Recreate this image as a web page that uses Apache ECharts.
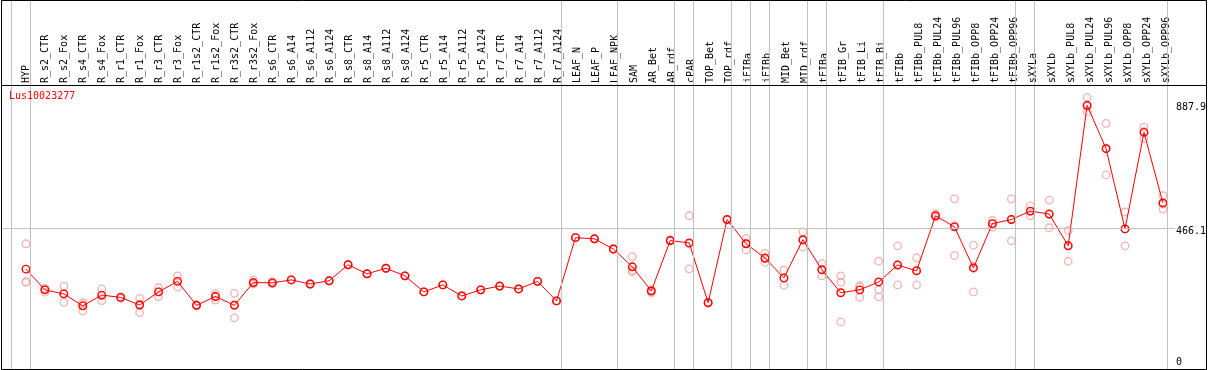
<!DOCTYPE html>
<html>
<head>
<meta charset="utf-8">
<script src="https://cdn.jsdelivr.net/npm/echarts@6/dist/echarts.min.js"></script>
<style>
html,body{margin:0;padding:0;background:#fff;}
#c{width:1209px;height:370px;}
</style>
</head>
<body>
<div id="c"></div>
<script>
const categories = ['HYP','R_s2_CTR','R_s2_Fox','R_s4_CTR','R_s4_Fox','R_r1_CTR','R_r1_Fox','R_r3_CTR','R_r3_Fox','R_r1s2_CTR','R_r1s2_Fox','R_r3s2_CTR','R_r3s2_Fox','R_s6_CTR','R_s6_A14','R_s6_A112','R_s6_A124','R_s8_CTR','R_s8_A14','R_s8_A112','R_s8_A124','R_r5_CTR','R_r5_A14','R_r5_A112','R_r5_A124','R_r7_CTR','R_r7_A14','R_r7_A112','R_r7_A124','LEAF_N','LEAF_P','LEAF_NPK','SAM','AR_Bet','AR_rdf','cPAR','TOP_Bet','TOP_rdf','iFIBa','iFIBb','MID_Bet','MID_rdf','tFIBa','tFIB_Gr','tFIB_Li','tFIB_Bi','tFIBb','tFIBb_PUL8','tFIBb_PUL24','tFIBb_PUL96','tFIBb_OPP8','tFIBb_OPP24','tFIBb_OPP96','sXYLa','sXYLb','sXYLb_PUL8','sXYLb_PUL24','sXYLb_PUL96','sXYLb_OPP8','sXYLb_OPP24','sXYLb_OPP96'];

const meanValues = [326,255,241,200,237,229,203,248,284,202,232,202,280,279,289,275,286,341,310,329,303,248,272,234,255,268,258,284,217,434,430,395,334,251,424,416,211,496,413,364,296,427,324,245,255,282,340,320,509,471,330,482,496,525,515,406,887.9,739,464,795,553];

const rep1 = [413,260,268,211,258,231,226,263,303,203,242,243,289,284,289,275,286,341,310,329,303,248,272,234,255,268,258,284,217,434,430,395,369,245,426,509,208,497,431,381,323,454,345,303,269,353,406,365,516,567,408,493,567,543,563,458,915,826,522,813,578];
const rep2 = [283,247,212,183,218,226,177,232,264,200,220,159,276,276,289,275,286,341,310,329,303,248,272,234,255,268,258,284,217,434,430,395,322,255,422,327,213,495,392,349,271,402,303,281,229,255,272,272,505,372,248,470,423,509,468,353,866,649,406,774,532];
const rep3 = [281,258,243,206,235,230,206,249,285,203,234,204,275,277,289,275,286,341,310,329,303,248,272,234,255,268,258,284,217,434,430,395,317,253,425,413,212,496,416,361,294,425,323,145,266,231,341,323,507,475,335,482,497,524,514,407,883,741,464,798,549];

const separatorAfter = [-1,0,28,31,34,35,37,38,39,41,42,45,52,53,60];
const yTickValues = [0,466.1,887.9];
const yTickLabels = ['0','466.1','887.9'];
const gridLineValue = 466.1;
const title = 'Lus10023277';

const FONT = 'DejaVu Sans Mono';
const chart = echarts.init(document.getElementById('c'), null, {renderer:'canvas'});

const meanData = meanValues.map((v,i)=>[i,v]);
const repData = [];
[rep1,rep2,rep3].forEach(r=>r.forEach((v,i)=>{ if(v!=null) repData.push([i,v]); }));

chart.setOption({
  animation:false,
  backgroundColor:'#fff',
  title:{text:title,left:9,top:91,padding:0,textStyle:{color:'#ff0000',fontSize:10,fontFamily:FONT,fontWeight:'normal'}},
  grid:[
    {left:1,right:31,top:0,bottom:1,containLabel:false},
    {left:16.5,right:33.5,top:85,height:1,containLabel:false}
  ],
  xAxis:[
    {type:'value',gridIndex:0,min:-25/19,max:-25/19+1177/19,show:false},
    {type:'category',gridIndex:1,position:'top',data:categories,boundaryGap:true,
      axisLine:{show:false},axisTick:{show:false},splitLine:{show:false},
      axisLabel:{interval:0,rotate:90,margin:2,fontSize:10,fontFamily:FONT,color:'#000'}}
  ],
  yAxis:[
    {type:'value',gridIndex:0,min:-16.5,max:1249,position:'right',
      axisLine:{show:false},axisTick:{show:false},splitLine:{show:false},
      axisLabel:{show:true,customValues:yTickValues,margin:1,fontSize:10,fontFamily:FONT,color:'#000',align:'left',
        formatter:function(v){const k=yTickValues.indexOf(v);const t=k>=0?yTickLabels[k]:String(v);return '{s'+k+'|'+t+'}';},
        rich:{s0:{padding:[0,0,3,0],fontSize:10,fontFamily:FONT},s1:{padding:[7,0,0,0],fontSize:10,fontFamily:FONT},s2:{padding:[4,0,0,0],fontSize:10,fontFamily:FONT}}}},
    {type:'value',gridIndex:1,show:false}
  ],
  graphic:[
    {type:'rect',z:100,silent:true,shape:{x:1.5,y:0.5,width:1205,height:369},style:{fill:'none',stroke:'#000',lineWidth:1}},
    {type:'line',z:100,silent:true,shape:{x1:1,y1:85.5,x2:1207,y2:85.5},style:{stroke:'#000',lineWidth:1}}
  ],
  series:[
    {type:'scatter',name:'rep',xAxisIndex:0,yAxisIndex:0,data:repData,symbol:'circle',symbolSize:7.5,
      itemStyle:{color:'rgba(0,0,0,0)',borderColor:'#f0a0a0',borderWidth:1.3},z:2,
      markLine:{silent:true,symbol:'none',label:{show:false},lineStyle:{color:'#c0c0c0',type:'solid',width:1},
        data:separatorAfter.map(i=>({xAxis:i+0.23})).concat([{yAxis:gridLineValue}])}},
    {type:'line',name:'mean',xAxisIndex:0,yAxisIndex:0,data:meanData,symbol:'circle',symbolSize:7.5,showAllSymbol:true,
      lineStyle:{color:'#ff0000',width:1},itemStyle:{color:'rgba(0,0,0,0)',borderColor:'#ff0000',borderWidth:1.4},z:3}
  ]
});
</script>
</body>
</html>
